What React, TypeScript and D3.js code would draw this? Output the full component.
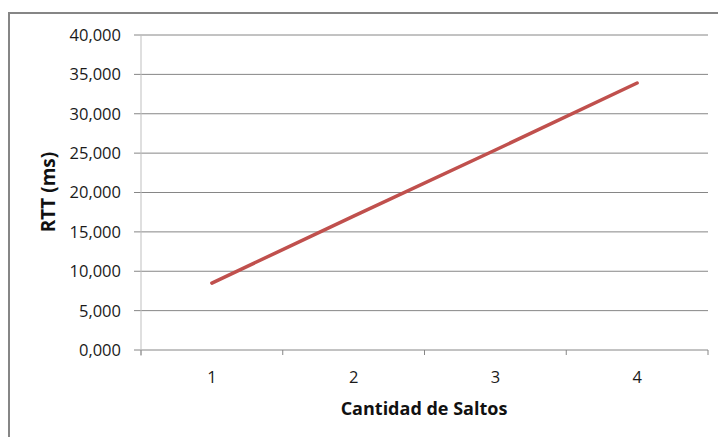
import React from "react";
import * as d3 from "d3";

const categories = ["1", "2", "3", "4"];
const rttValues = [8500, 17000, 25400, 33900];
const yTicks = [0, 5000, 10000, 15000, 20000, 25000, 30000, 35000, 40000];

const W = 718;
const H = 437;
const left = 141;
const right = 708;
const top = 35;
const bottom = 350;
const font = "'Open Sans', 'Noto Sans', sans-serif";

export default function App() {
  const x = d3.scaleBand<string>().domain(categories).range([left, right]).padding(0);
  const y = d3.scaleLinear().domain([0, 40000]).range([bottom, top]);
  const fmt = (v: number) => d3.format(",.3f")(v / 1000).replace(".", ",");
  const line = d3
    .line<number>()
    .x((_, i) => (x(categories[i]) as number) + x.bandwidth() / 2)
    .y((d) => y(d));
  const xTickPos = [...categories.map((c) => x(c) as number), right];

  return (
    <svg width={W} height={H} style={{ position: "absolute", left: 0, top: 0, background: "#fff" }}>
      <rect x={9} y={13} width={W + 20} height={H + 20} fill="#fff" stroke="#868686" strokeWidth={2} />
      {yTicks.map((t) => (
        <g key={t}>
          <line x1={134} x2={right} y1={y(t)} y2={y(t)} stroke="#868686" strokeWidth={1} />
          <text x={121} y={y(t)} dy="0.36em" textAnchor="end" fontFamily={font} fontSize={16.5} fill="#1a1a1a">
            {fmt(t)}
          </text>
        </g>
      ))}
      <line x1={left} x2={left} y1={top} y2={bottom + 6} stroke="#bfbfbf" strokeWidth={1} />
      {xTickPos.map((p, i) => (
        <line key={i} x1={p} x2={p} y1={bottom} y2={bottom + 5} stroke="#868686" strokeWidth={1} />
      ))}
      {categories.map((c) => (
        <text
          key={c}
          x={(x(c) as number) + x.bandwidth() / 2}
          y={383}
          textAnchor="middle"
          fontFamily={font}
          fontSize={16.5}
          fill="#1a1a1a"
        >
          {c}
        </text>
      ))}
      <path d={line(rttValues) || ""} fill="none" stroke="#C0504D" strokeWidth={3.5} strokeLinecap="round" />
      <text x={424} y={415} textAnchor="middle" fontFamily={font} fontSize={18} fontWeight="bold" fill="#111">
        Cantidad de Saltos
      </text>
      <text
        transform={`translate(55, 192) rotate(-90)`}
        textAnchor="middle"
        fontFamily={font}
        fontSize={19}
        fontWeight="bold"
        fill="#111"
      >
        RTT (ms)
      </text>
    </svg>
  );
}
